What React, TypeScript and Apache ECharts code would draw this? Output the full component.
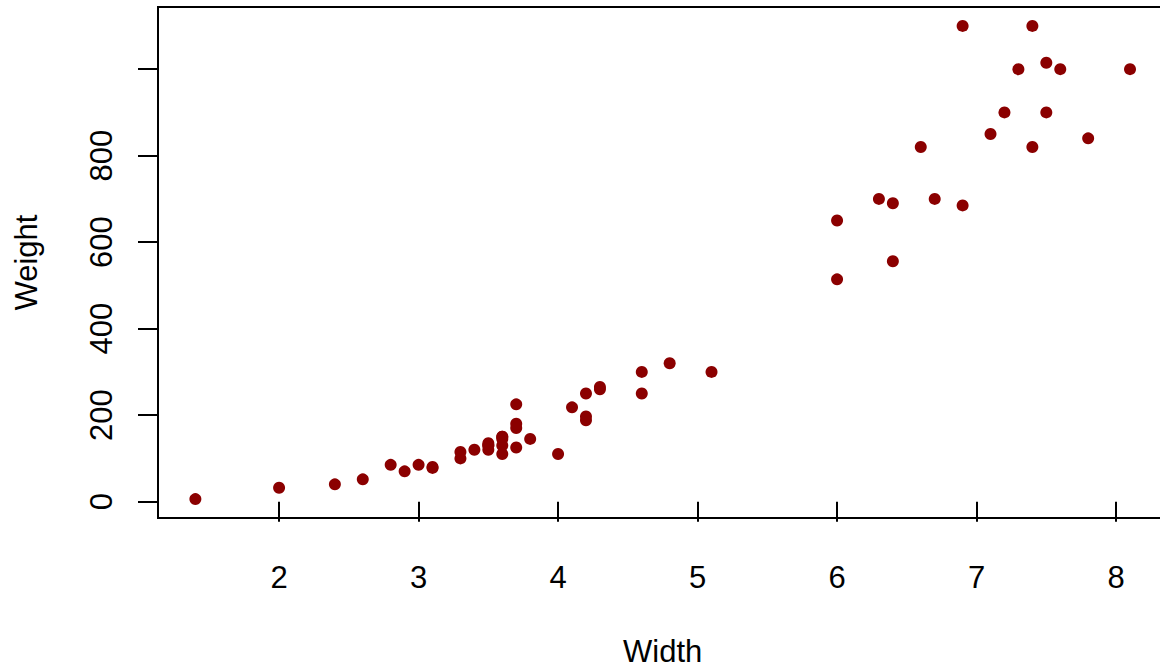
import React, { useEffect, useRef } from "react";
import * as echarts from "echarts";

// Perch: width (rounded to 0.1) and weight
const widths: number[] = [
  1.4, 2.0, 2.4, 2.6, 2.9, 3.3, 3.1, 3.1, 3.0, 2.8,
  3.6, 3.3, 3.7, 3.5, 3.4, 3.5, 3.5, 3.5, 4.0, 3.6,
  3.6, 3.6, 3.6, 3.7, 3.7, 3.8, 4.2, 3.7, 4.2, 4.1,
  5.1, 4.3, 4.3, 4.6, 4.2, 4.6, 4.8, 6.0, 6.4, 7.8,
  6.9, 6.7, 6.3, 6.4, 7.5, 6.0, 7.4, 7.1, 7.2, 7.5,
  6.6, 6.9, 7.3, 7.4, 8.1, 7.6,
];
const weights: number[] = [
  5.9, 32, 40, 51.5, 70, 100, 78, 80, 85, 85,
  110, 115, 125, 130, 120, 120, 130, 135, 110, 130,
  150, 145, 150, 170, 225, 145, 188, 180, 197, 218,
  300, 260, 265, 250, 250, 300, 320, 514, 556, 840,
  685, 700, 700, 690, 900, 650, 820, 850, 900, 1015,
  820, 1100, 1000, 1100, 1000, 1000,
];
const xTicks: number[] = [2, 3, 4, 5, 6, 7, 8];
const yTicks: number[] = [0, 200, 400, 600, 800, 1000];
const yLabels: number[] = [0, 200, 400, 600, 800];

const FONT = "'Liberation Sans', Arial, Helvetica, sans-serif";

export default function App() {
  const ref = useRef<HTMLDivElement>(null);
  useEffect(() => {
    if (!ref.current) return;
    const chart = echarts.init(ref.current, undefined, { renderer: "svg" });
    const xmin = Math.min(...widths), xmax = Math.max(...widths);
    const ymin = Math.min(...weights), ymax = Math.max(...weights);
    const xr = xmax - xmin, yr = ymax - ymin;
    const data = widths.map((w, i) => [w, weights[i]]);
    chart.setOption({
      animation: false,
      backgroundColor: "#ffffff",
      grid: {
        show: true,
        left: 158,
        top: 7,
        right: 12.6,
        bottom: 150,
        containLabel: false,
        outerBoundsMode: "none",
        borderColor: "#000000",
        borderWidth: 2,
        backgroundColor: "transparent",
      },
      xAxis: {
        type: "value",
        min: xmin - 0.04 * xr,
        max: xmax + 0.04 * xr,
        name: "Width",
        nameLocation: "middle",
        nameGap: 118,
        nameTextStyle: { fontFamily: FONT, fontSize: 31, color: "#000" },
        axisLine: { show: false },
        splitLine: { show: false },
        axisTick: {
          show: true,
          inside: false,
          length: 20,
          customValues: xTicks,
          lineStyle: { color: "#000", width: 2 },
        },
        axisLabel: {
          show: true,
          customValues: xTicks,
          margin: 44,
          fontFamily: FONT,
          fontSize: 31,
          color: "#000",
        },
      },
      yAxis: {
        type: "value",
        min: ymin - 0.04 * yr,
        max: ymax + 0.04 * yr,
        name: "Weight",
        nameLocation: "middle",
        nameGap: 116,
        nameRotate: 90,
        nameTextStyle: { fontFamily: FONT, fontSize: 31, color: "#000" },
        axisLine: { show: false },
        splitLine: { show: false },
        axisTick: {
          show: true,
          inside: false,
          length: 20,
          customValues: yTicks,
          lineStyle: { color: "#000", width: 2 },
        },
        axisLabel: {
          show: true,
          customValues: yLabels,
          rotate: 90,
          margin: 41,
          fontFamily: FONT,
          fontSize: 31,
          color: "#000",
        },
      },
      series: [
        {
          type: "scatter",
          data,
          symbol: "circle",
          symbolSize: 12,
          itemStyle: { color: "#8B0000", opacity: 1 },
        },
      ],
    });
    return () => chart.dispose();
  }, []);
  return (
    <div
      style={{
        position: "fixed",
        left: 0,
        top: 0,
        width: 1160,
        height: 668,
        overflow: "hidden",
        background: "#fff",
      }}
    >
      <div ref={ref} style={{ width: 1180, height: 668 }} />
    </div>
  );
}
